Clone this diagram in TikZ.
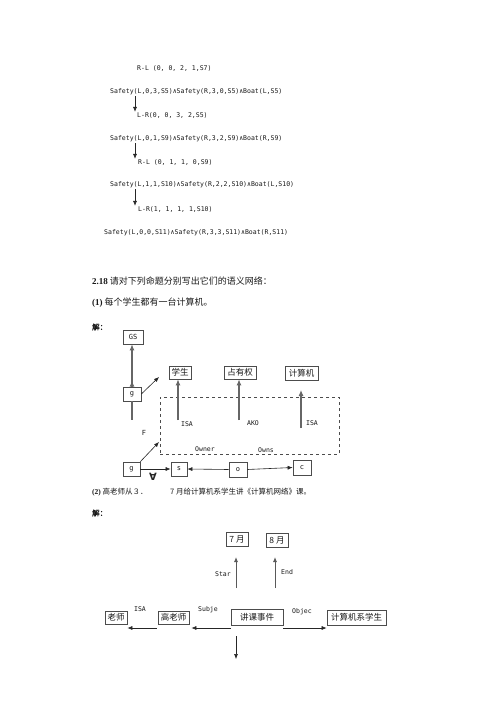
\documentclass[tikz,border=0pt]{standalone}
\usepackage{fontspec}
\setmainfont{Liberation Serif}
\newfontfamily\cjk{Noto Sans CJK SC}
\newfontfamily\cjkb[FakeBold=1.5]{Noto Sans CJK SC}
\newfontfamily\mono{DejaVu Sans Mono}
\newfontfamily\dejavu{DejaVu Sans}
\usetikzlibrary{arrows.meta,calc}
\tikzset{
  txt/.style={inner sep=0, anchor=west, text=black!90},
  code/.style={txt, font=\mono\fontsize{6.5}{7}\selectfont},
  lab/.style={inner sep=0, text=black!90, font=\mono\fontsize{6.5}{7}\selectfont},
  box/.style={draw=black!70, line width=0.7pt, inner sep=0, text=black!90},
  cbox/.style={box, font=\cjk\fontsize{8.5}{9}\selectfont},
  mbox/.style={box, font=\mono\fontsize{7}{7}\selectfont},
  arr/.style={-{Latex[length=5pt,width=4pt]}, line width=0.6pt, draw=black!85},
  garr/.style={-{Latex[length=6pt,width=5pt]}, line width=1.1pt, draw=black!60},
  gline/.style={line width=1.1pt, draw=black!60},
  dbox/.style={draw=black!70, dashed, line width=0.7pt, inner sep=0}
}
\begin{document}
\begin{tikzpicture}[x=1pt,y=-1pt]
\useasboundingbox[fill=white] (0,0) rectangle (500,708);

% ---------- top derivation ----------
\node[code] (t1) at (137,68) {R-L (0, 0, 2, 1,S7)};
\node[code] (t2) at (110,92) {Safety(L,0,3,S5)∧Safety(R,3,0,S5)∧Boat(L,S5)};
\node[code] (t4) at (137,115) {L-R(0, 0, 3, 2,S5)};
\node[code] (t5) at (110,139) {Safety(L,0,1,S9)∧Safety(R,3,2,S9)∧Boat(R,S9)};
\node[code] (t7) at (138,162) {R-L (0, 1, 1, 0,S9)};
\node[code] (t8) at (110,185) {Safety(L,1,1,S10)∧Safety(R,2,2,S10)∧Boat(L,S10)};
\node[code] (t10) at (138,209) {L-R(1, 1, 1, 1,S10)};
\node[code] (t11) at (104,233) {Safety(L,0,0,S11)∧Safety(R,3,3,S11)∧Boat(R,S11)};
\coordinate (ax) at (135,0);
\draw[arr] ($(t2.south -| ax)+(0,1)$) -- ($(t4.north -| ax)+(0,0)$);
\draw[arr] ($(t5.south -| ax)+(0,1)$) -- ($(t7.north -| ax)+(0,0)$);
\draw[arr] ($(t8.south -| ax)+(0,1)$) -- ($(t10.north -| ax)+(0,0)$);

% ---------- headings ----------
\node[txt, font=\cjk\fontsize{9}{9}\selectfont] (h1) at (92,281)
  {{\rmfamily\bfseries 2.18} 请对下列命题分别写出它们的语义网络：};
\node[txt, font=\cjk\fontsize{9}{9}\selectfont] (h2) at (92,303)
  {{\rmfamily\bfseries (1)}\ 每个学生都有一台计算机。};
\node[txt, font=\cjkb\fontsize{7.5}{8}\selectfont] (j1) at (92,327) {解：};

% ---------- diagram 1 ----------
\node[mbox, minimum width=20pt, minimum height=14pt] (GS) at (133,337) {GS};
\node[mbox, minimum width=18pt, minimum height=14pt] (g1) at (132,394) {g};
\node[cbox, minimum width=22pt, minimum height=13pt] (xs) at (180,372.5) {学生};
\node[cbox, minimum width=32pt, minimum height=13pt] (zy) at (240,372.5) {占有权};
\node[cbox, minimum width=33pt, minimum height=14pt] (jsj) at (301.5,373.5) {计算机};
\node[dbox, minimum width=179pt, minimum height=57pt] (dr) at (249.5,425.5) {};
\node[mbox, minimum width=17pt, minimum height=14pt] (g2) at (131.5,469) {g};
\node[mbox, minimum width=16pt, minimum height=14pt] (s) at (179,469) {s};
\node[mbox, minimum width=18pt, minimum height=15pt] (o) at (238,469.5) {o};
\node[mbox, minimum width=18pt, minimum height=15pt] (c) at (302,467.5) {c};

\draw[garr] (g1.north) -- (GS.south -| g1.north);
\draw[garr] (g1.north) -- ++(0,-6);
\coordinate (g1d) at (132,420);
\draw[gline] (g1.south) -- (g1d);
\coordinate (g1t) at (159,377);
\draw[arr] (g1.east) -- (g1t);

\coordinate (xsb) at (178,420);
\coordinate (zyb) at (239,420);
\coordinate (jsb) at (301,428);
\coordinate (jst) at (301,390);
\draw[garr] (xsb) -- (xs.south -| xsb);
\draw[garr] (zyb) -- (zy.south -| zyb);
\draw[garr] (jsb) -- (jst);

\node[lab] (l1) at (187,424) {ISA};
\node[lab] (l2) at (253,423) {AKO};
\node[lab] (l3) at (312,423) {ISA};
\node[lab, font=\mono\fontsize{7}{7}\selectfont] (lf) at (144,433) {F};
\node[lab] (l4) at (205,449) {Owner};
\node[lab] (l5) at (266,450) {Owns};
\node[inner sep=0, text=black!85, font=\dejavu\bfseries\fontsize{10}{10}\selectfont] (fa) at (153,477) {∀};

\coordinate (drc) at (159,442);
\draw[arr] (g2.north east) -- (drc);
\draw[arr] (g2.east) -- (s.west);
\draw[arr] (o.west) -- (s.east);
\draw[arr] (o.east) -- (c.west);

% ---------- part (2) ----------
\node[txt, font=\cjk\fontsize{7.5}{8}\selectfont] (h3) at (92,492)
  {{\rmfamily\bfseries (2)}\ 高老师从３．};
\node[txt, font=\cjk\fontsize{7.5}{8}\selectfont] (h4) at (170,492)
  {7 月给计算机系学生讲《计算机网络》课。};
\node[txt, font=\cjkb\fontsize{7.5}{8}\selectfont] (j2) at (92,513) {解：};

\node[cbox, minimum width=22pt, minimum height=14pt] (m7) at (237,539) {7 月};
\node[cbox, minimum width=22pt, minimum height=14pt] (m8) at (277,540) {8 月};
\node[cbox, minimum width=22pt, minimum height=13pt] (ls) at (116,617.5) {老师};
\node[cbox, minimum width=31pt, minimum height=13pt] (gls) at (173.5,617.5) {高老师};
\node[cbox, minimum width=52pt, minimum height=16pt] (jk) at (257,617) {讲课事件};
\node[cbox, minimum width=59pt, minimum height=15pt] (st) at (356.5,617.5) {计算机系学生};

\coordinate (a7b) at (236,588);
\coordinate (a7t) at (236,557);
\coordinate (a8b) at (275,588);
\coordinate (a8t) at (275,557);
\draw[arr, line width=0.8pt, draw=black!65] (a7b) -- (a7t);
\draw[arr, line width=0.8pt, draw=black!65] (a8b) -- (a8t);
\node[lab, anchor=east] (lst) at (231,574) {Star};
\node[lab, anchor=west] (len) at (281,572) {End};

\coordinate (hy) at (0,628);
\draw[arr] (jk.west |- hy) -- ($(gls.east |- hy)+(2,0)$);
\draw[arr] ($(gls.west |- hy)+(-1,0)$) -- (ls.east |- hy);
\draw[arr] (jk.east |- hy) -- (st.west |- hy);
\coordinate (dn1) at (236,636);
\coordinate (dn2) at (236,659);
\draw[arr] (dn1) -- (dn2);
\node[lab] (lisa) at (140,609) {ISA};
\node[lab] (lsub) at (208,610) {Subje};
\node[lab] (lobj) at (302,612) {Objec};
\end{tikzpicture}
\end{document}
